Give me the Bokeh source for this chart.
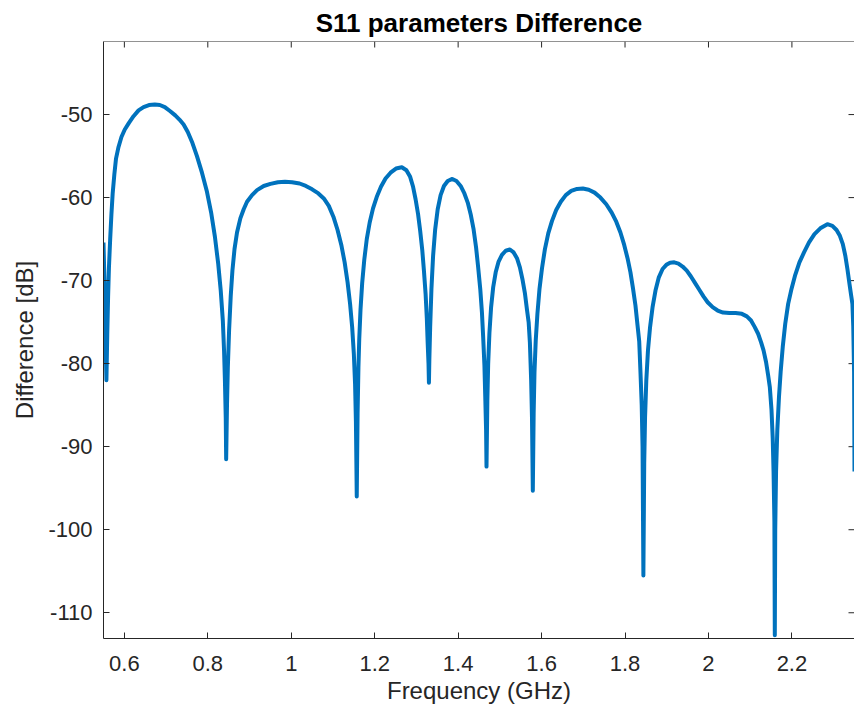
from bokeh.plotting import figure
from bokeh.models import FixedTicker, NumeralTickFormatter, Range1d, Span
from bokeh.embed import file_html
from bokeh.resources import INLINE

# ---- data ----
freq_ghz = [
    0.550, 0.552, 0.554, 0.556, 0.557,
    0.559, 0.561, 0.563, 0.566, 0.569, 0.572, 0.576, 0.580, 0.586, 0.593, 0.601, 0.611,
    0.622, 0.634, 0.646, 0.659, 0.673, 0.685, 0.697, 0.710, 0.722, 0.732, 0.742, 0.752,
    0.763, 0.774, 0.786, 0.798, 0.808, 0.817, 0.825, 0.831, 0.836, 0.839, 0.841, 0.843,
    0.844,
    0.846, 0.848, 0.851, 0.855, 0.859, 0.864, 0.870, 0.878, 0.886, 0.894, 0.906, 0.918,
    0.934, 0.950, 0.968, 0.985, 1.002, 1.020, 1.035, 1.050, 1.065, 1.078, 1.090, 1.101,
    1.111, 1.120, 1.128, 1.135, 1.141, 1.146, 1.150, 1.153, 1.155, 1.157,
    1.159, 1.161, 1.163, 1.166, 1.170, 1.175, 1.181, 1.188, 1.196, 1.205, 1.215, 1.226,
    1.238, 1.251, 1.265, 1.276, 1.285, 1.292, 1.298, 1.304, 1.309, 1.314, 1.318, 1.322,
    1.325, 1.327, 1.329, 1.330,
    1.331, 1.333, 1.336, 1.340, 1.345, 1.351, 1.358, 1.366, 1.375, 1.386, 1.396, 1.406,
    1.415, 1.423, 1.430, 1.437, 1.443, 1.448, 1.453, 1.457, 1.460, 1.463, 1.465, 1.467,
    1.468,
    1.470, 1.472, 1.475, 1.479, 1.484, 1.490, 1.497, 1.505, 1.514, 1.524, 1.533, 1.541,
    1.548, 1.554, 1.560, 1.565, 1.569, 1.572, 1.575, 1.577, 1.579,
    1.581, 1.583, 1.586, 1.590, 1.595, 1.601, 1.608, 1.616, 1.625, 1.635, 1.646, 1.658,
    1.671, 1.685, 1.699, 1.713, 1.727, 1.741, 1.755, 1.768, 1.779, 1.789, 1.798, 1.806,
    1.813, 1.819, 1.825, 1.830, 1.834, 1.837, 1.840, 1.842, 1.844,
    1.846, 1.848, 1.851, 1.855, 1.860, 1.866, 1.873, 1.881, 1.890, 1.899, 1.908, 1.918,
    1.928, 1.938, 1.948, 1.958, 1.968, 1.978, 1.988, 1.998, 2.010, 2.022, 2.035, 2.050,
    2.065, 2.080, 2.092, 2.102, 2.111, 2.119, 2.126, 2.132, 2.138, 2.143, 2.147, 2.151,
    2.154, 2.156, 2.158, 2.159,
    2.160, 2.162, 2.165, 2.169, 2.173, 2.178, 2.184, 2.191, 2.199, 2.208, 2.218, 2.229,
    2.241, 2.254, 2.268, 2.285, 2.297, 2.307, 2.315, 2.322, 2.328, 2.333, 2.338, 2.342,
    2.345, 2.347, 2.349, 2.350,
]
difference_db = [
    -65.4, -69.5, -74.5, -79.5, -82.0,
    -76.5, -72.0, -68.5, -65.0, -62.0, -59.5, -57.2, -55.3, -53.9, -52.7, -51.8, -51.0,
    -50.2, -49.5, -49.1, -48.85, -48.8, -48.85, -49.1, -49.6, -50.1, -50.6, -51.2, -52.1,
    -53.4, -55.0, -57.0, -59.3, -61.8, -64.7, -68.0, -71.2, -74.8, -78.5, -82.0, -86.5,
    -91.5,
    -85.0, -80.5, -76.0, -71.8, -68.8, -66.2, -64.2, -62.5, -61.4, -60.5, -59.7, -59.1,
    -58.6, -58.35, -58.15, -58.1, -58.15, -58.3, -58.6, -59.0, -59.5, -60.1, -61.0, -62.3,
    -63.9, -65.7, -67.8, -70.2, -72.8, -75.6, -78.8, -82.5, -87.0, -96.0,
    -86.0, -80.5, -77.0, -73.5, -70.3, -67.5, -65.0, -63.0, -61.3, -59.9, -58.7, -57.7,
    -57.0, -56.5, -56.35, -56.7, -57.5, -58.7, -60.2, -62.0, -64.0, -66.3, -68.8, -71.6,
    -74.6, -77.5, -80.0, -82.3,
    -79.5, -75.5, -71.0, -67.0, -63.8, -61.4, -59.7, -58.6, -58.0, -57.75, -58.0, -58.6,
    -59.5, -60.6, -62.0, -63.8, -66.0, -68.4, -71.0, -73.8, -76.8, -80.2, -84.0, -88.0,
    -92.4,
    -84.5, -80.0, -76.3, -73.2, -70.8, -69.0, -67.7, -66.9, -66.4, -66.25, -66.6, -67.3,
    -68.4, -69.8, -71.5, -73.5, -75.0, -77.5, -82.0, -86.5, -95.3,
    -86.0, -81.0, -77.2, -74.0, -71.0, -68.5, -66.2, -64.3, -62.8, -61.5, -60.5, -59.7,
    -59.2, -58.95, -58.9, -59.05, -59.4, -60.0, -60.8, -61.8, -62.9, -64.2, -65.7, -67.3,
    -69.0, -70.9, -73.0, -75.4, -77.3, -81.0, -85.0, -90.0, -105.5,
    -92.0, -86.5, -82.0, -78.4, -75.6, -73.2, -71.2, -69.6, -68.6, -68.1, -67.85, -67.8,
    -67.95, -68.3, -68.8, -69.5, -70.3, -71.1, -71.9, -72.6, -73.2, -73.6, -73.85, -73.9,
    -73.9, -74.0, -74.3, -74.8, -75.6, -76.4, -77.4, -78.4, -79.8, -81.4, -82.8, -85.5,
    -89.0, -93.0, -99.0, -112.7,
    -100.0, -93.0, -88.0, -84.0, -81.0, -78.0, -75.2, -72.8, -71.0, -69.3, -67.8, -66.6,
    -65.4, -64.4, -63.7, -63.2, -63.4, -63.9, -64.6, -65.6, -67.0, -68.6, -70.4, -71.8,
    -72.8, -75.5, -81.0, -93.0,
]
x_ticks = [0.6, 0.8, 1.0, 1.2, 1.4, 1.6, 1.8, 2.0, 2.2]
y_ticks = [-110, -100, -90, -80, -70, -60, -50]

FONT = "Liberation Sans"
AX = "#262626"
X0, X1 = 0.55, 2.35
Y0, Y1 = -113.1, -41.2

p = figure(
    width=854, height=716,
    output_backend="svg", toolbar_location=None,
    x_range=Range1d(X0, X1), y_range=Range1d(Y0, Y1),
    min_border_left=103, min_border_right=0, min_border_top=41, min_border_bottom=78,
    x_axis_label="Frequency (GHz)", y_axis_label="Difference [dB]",
    title="S11 parameters Difference",
)
p.outline_line_color = None
p.grid.visible = False
p.background_fill_color = "white"
p.border_fill_color = "white"

p.title.align = "center"
p.title.text_font = FONT
p.title.text_font_size = "26px"
p.title.text_font_style = "bold"
p.title.text_color = "#000000"
p.title.standoff = 8

p.xaxis[0].ticker = FixedTicker(ticks=x_ticks)
p.xaxis[0].formatter = NumeralTickFormatter(format="0.[0]")
p.yaxis[0].ticker = FixedTicker(ticks=y_ticks)
p.yaxis[0].formatter = NumeralTickFormatter(format="0")

for ax in (p.xaxis[0], p.yaxis[0]):
    ax.major_tick_in = 6
    ax.major_tick_out = 0
    ax.minor_tick_line_color = None
    ax.axis_line_color = AX
    ax.major_tick_line_color = AX
    ax.major_label_text_color = AX
    ax.major_label_text_font = FONT
    ax.major_label_text_font_size = "22px"
    ax.axis_label_text_font = FONT
    ax.axis_label_text_font_size = "24px"
    ax.axis_label_text_font_style = "normal"
    ax.axis_label_text_color = AX

p.xaxis[0].major_label_standoff = 17
p.xaxis[0].axis_label_standoff = 3
p.yaxis[0].major_label_standoff = 11
p.yaxis[0].axis_label_standoff = 7

# box: top line, inward ticks on top and on the (cropped) right side
p.add_layout(Span(location=Y1, dimension="width", line_color=AX, line_width=1))
tick_dy = 6 * (Y1 - Y0) / 597.0
tick_dx = 6 * (X1 - X0) / 751.0
p.segment(x0=x_ticks, y0=[Y1] * len(x_ticks), x1=x_ticks, y1=[Y1 - tick_dy] * len(x_ticks),
          line_color=AX, line_width=1)
p.segment(x0=[X1] * len(y_ticks), y0=y_ticks, x1=[X1 - tick_dx] * len(y_ticks), y1=y_ticks,
          line_color=AX, line_width=1)

p.line(freq_ghz, difference_db, line_color="#0072BD", line_width=4, line_join="round")

open("out.html", "w").write(file_html(p, INLINE))
